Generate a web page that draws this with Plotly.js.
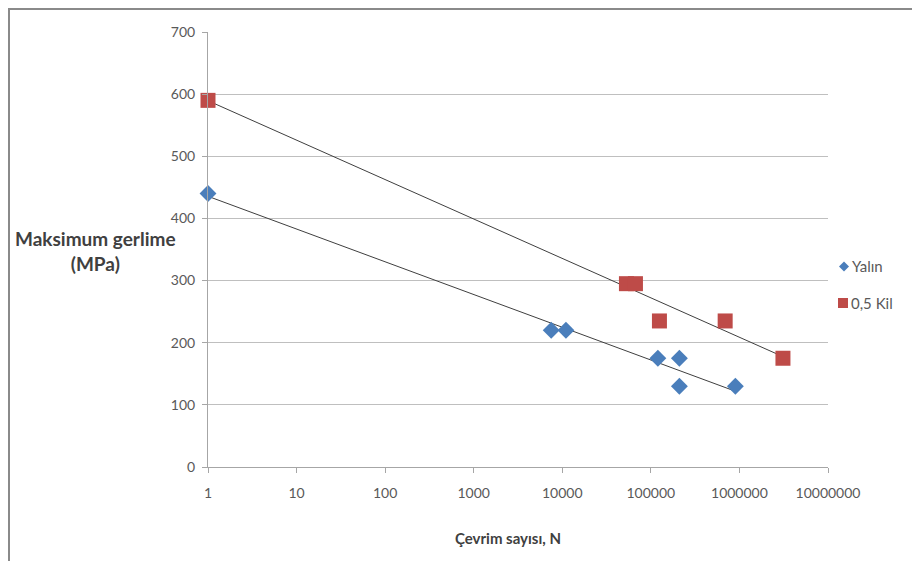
<!DOCTYPE html>
<html>
<head>
<meta charset="utf-8">
<script src="https://cdn.plot.ly/plotly-3.0.1.min.js"></script>
<style>
  html, body { margin: 0; padding: 0; background: #ffffff; }
  #frame { position: absolute; left: 8px; top: 8px; width: 1000px; height: 1000px;
           border-left: 2px solid #8a8a8a; border-top: 2px solid #8a8a8a; }
  #chart { position: absolute; left: 0; top: 0; width: 912px; height: 561px; }
</style>
</head>
<body>
<div id="frame"></div>
<div id="chart"></div>
<script>
// Fatigue data: number of cycles N vs. maximum stress (MPa)
const yalinN      = [1, 7500, 11000, 120000, 210000, 210000, 900000];
const yalinStress = [440, 220, 220, 175, 175, 130, 130];

const kilN      = [1, 53000, 67000, 125000, 690000, 3100000];
const kilStress = [590, 295, 295, 235, 235, 175];

const seriesNames  = ['Yalın', '0,5 Kil'];
const seriesColors = ['#4a7ebb', '#be4b48'];
const xTickVals = [1, 10, 100, 1000, 10000, 100000, 1000000, 10000000];
const xTickText = ['1', '10', '100', '1000', '10000', '100000', '1000000', '10000000'];

// Logarithmic trendline (least squares of stress against log10 N)
function logFit(xs, ys) {
  const lx = xs.map(v => Math.log10(v));
  const n = lx.length;
  const mx = lx.reduce((a, b) => a + b, 0) / n;
  const my = ys.reduce((a, b) => a + b, 0) / n;
  let sxy = 0, sxx = 0;
  for (let i = 0; i < n; i++) { sxy += (lx[i] - mx) * (ys[i] - my); sxx += (lx[i] - mx) ** 2; }
  const slope = sxy / sxx, icept = my - slope * mx;
  const x0 = Math.min(...xs), x1 = Math.max(...xs);
  return { x: [x0, x1], y: [icept + slope * Math.log10(x0), icept + slope * Math.log10(x1)] };
}

const fitY = logFit(yalinN, yalinStress);
const fitK = logFit(kilN, kilStress);

const font = 'Lato, "Open Sans", sans-serif';
const tickColor = '#595959';

const traces = [
  { x: fitY.x, y: fitY.y, mode: 'lines', line: { color: '#3f3f3f', width: 1 },
    showlegend: false, hoverinfo: 'skip', cliponaxis: false },
  { x: fitK.x, y: fitK.y, mode: 'lines', line: { color: '#3f3f3f', width: 1 },
    showlegend: false, hoverinfo: 'skip', cliponaxis: false },
  { x: yalinN, y: yalinStress, mode: 'markers', name: seriesNames[0], showlegend: false,
    cliponaxis: false,
    marker: { symbol: 'diamond', size: 13, color: seriesColors[0] } },
  { x: kilN, y: kilStress, mode: 'markers', name: seriesNames[1], showlegend: false,
    cliponaxis: false,
    marker: { symbol: 'square', size: 15, color: seriesColors[1] } }
];

// Compact legend: small marker glyph followed by the series name
const legendY = [0.461, 0.377];
const legendShapes = [
  { type: 'path', xref: 'paper', yref: 'paper', xsizemode: 'pixel', ysizemode: 'pixel',
    xanchor: 1.0, yanchor: legendY[0], path: 'M 16 -5 L 21 0 L 16 5 L 11 0 Z',
    fillcolor: seriesColors[0], line: { width: 0 } },
  { type: 'path', xref: 'paper', yref: 'paper', xsizemode: 'pixel', ysizemode: 'pixel',
    xanchor: 1.0, yanchor: legendY[1], path: 'M 10 -5 L 20 -5 L 20 5 L 10 5 Z',
    fillcolor: seriesColors[1], line: { width: 0 } }
];
const legendText = [
  { xref: 'paper', yref: 'paper', x: 1.0, xshift: 22, y: legendY[0], xanchor: 'left',
    yanchor: 'middle', showarrow: false, text: seriesNames[0],
    font: { family: font, size: 15, color: tickColor } },
  { xref: 'paper', yref: 'paper', x: 1.0, xshift: 21, y: legendY[1], xanchor: 'left',
    yanchor: 'middle', showarrow: false, text: seriesNames[1],
    font: { family: font, size: 15, color: tickColor } }
];

const layout = {
  width: 912, height: 561,
  margin: { l: 208, r: 84, t: 32, b: 94 },
  paper_bgcolor: 'rgba(0,0,0,0)',
  plot_bgcolor: '#ffffff',
  showlegend: false,
  font: { family: font, size: 14, color: tickColor },
  xaxis: {
    type: 'log', range: [0, 7],
    tickvals: xTickVals, ticktext: xTickText,
    showgrid: false, zeroline: false,
    showline: true, linecolor: '#a6a6a6', linewidth: 1,
    ticks: 'outside', ticklen: 5, tickcolor: '#a6a6a6',
    ticklabelstandoff: 8,
    tickfont: { family: font, size: 14, color: tickColor }
  },
  yaxis: {
    range: [0, 700], dtick: 100,
    showgrid: true, gridcolor: '#bfbfbf', gridwidth: 1,
    zeroline: false,
    showline: true, linecolor: '#a6a6a6', linewidth: 1,
    ticks: 'outside', ticklen: 5, tickcolor: '#a6a6a6',
    ticklabelstandoff: 4,
    tickfont: { family: font, size: 14, color: tickColor }
  },
  shapes: legendShapes,
  annotations: legendText.concat([
    { xref: 'paper', yref: 'paper', x: -0.181, y: 0.497, xanchor: 'center', yanchor: 'middle',
      showarrow: false, align: 'center',
      text: '<b>Maksimum gerlime<br>(MPa)</b>',
      font: { family: font, size: 19, color: '#404040' } },
    { xref: 'paper', yref: 'paper', x: 0.484, y: -0.163, xanchor: 'center', yanchor: 'middle',
      showarrow: false,
      text: '<b>Çevrim sayısı, N</b>',
      font: { family: font, size: 15, color: '#404040' } }
  ])
};

Plotly.newPlot('chart', traces, layout, { displayModeBar: false, staticPlot: true });
</script>
</body>
</html>
